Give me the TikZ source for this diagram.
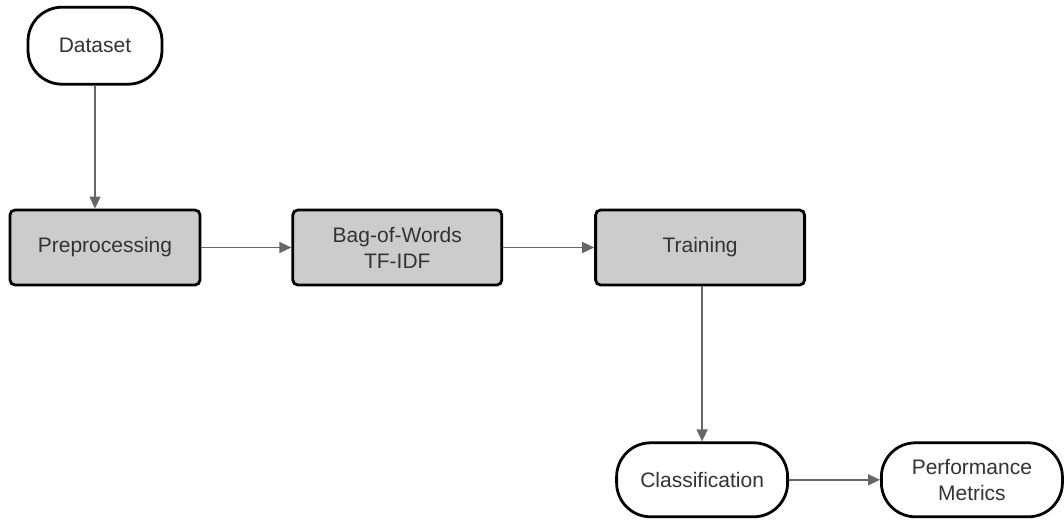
\documentclass[tikz,border=0pt]{standalone}
\usepackage{fontspec}
\setmainfont{Liberation Sans}
\usetikzlibrary{positioning,arrows.meta}

\definecolor{boxgray}{HTML}{CCCCCC}
\definecolor{txtgray}{HTML}{333333}
\definecolor{linegray}{HTML}{666666}

\tikzset{
  stepbox/.style={draw, fill=boxgray, line width=1.4pt, rounded corners=2.5pt,
    minimum height=37.5pt, text=txtgray, align=center,
    font=\fontsize{10.5}{13}\selectfont},
  endbox/.style={draw, fill=white, line width=1.4pt, rounded corners=17pt,
    minimum height=37pt, text=txtgray, align=center,
    font=\fontsize{10.5}{13}\selectfont},
  flow/.style={-{Triangle[length=6pt,width=5.5pt]}, draw=linegray, fill=linegray,
    line width=.75pt}
}

\begin{document}
\begin{tikzpicture}
	\useasboundingbox (0,0) rectangle (532pt,-259.5pt);

	\node [stepbox, minimum width=95pt] (prep) at (52.5pt,-123.75pt) {Preprocessing};

		\node [endbox, minimum width=67pt, minimum height=38.5pt,
		above=61.5pt of prep, xshift=-5pt] (data) {Dataset};

		\node [stepbox, minimum width=104.5pt,
		right=45pt of prep] (bow) {Bag-of-Words\\TF-IDF};

		\node [stepbox, minimum width=104.5pt,
		right=45.5pt of bow] (train) {Training};

		\node [endbox, minimum width=85.5pt,
		below=77.5pt of train, xshift=1pt] (class) {Classification};

		\node [endbox, minimum width=90.5pt,
		right=45.5pt of class] (perf) {Performance\\Metrics};

		\draw[flow] (data.south) -- (data.south |- prep.north);

		\draw[flow] (prep) -- (bow);

		\draw[flow] (bow) -- (train);

		\draw[flow] (train.south -| class.north) -- (class.north);

		\draw[flow] (class) -- (perf);

	\end{tikzpicture}
\end{document}
